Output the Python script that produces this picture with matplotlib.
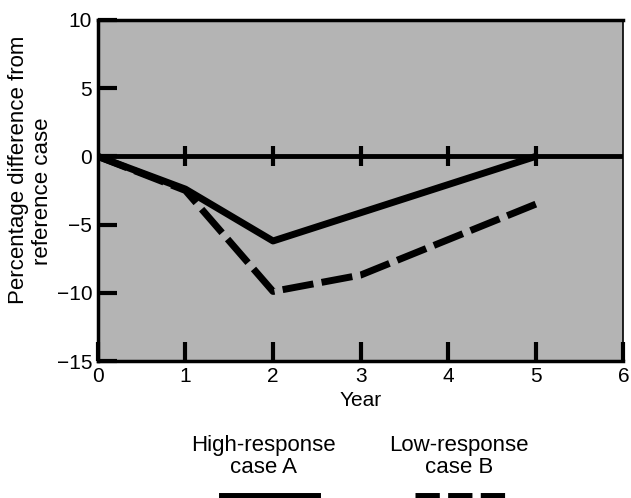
import matplotlib
matplotlib.use('Agg')
from matplotlib import pyplot as plt
from matplotlib.lines import Line2D

plt.rcParams['font.family'] = ['Liberation Sans', 'DejaVu Sans']

years = [0, 1, 2, 3, 4, 5, 6]
case_a_x = [0, 1, 2, 5]
case_a_y = [0, -2.4, -6.2, 0]
case_b_x = [0, 1, 2, 3, 5]
case_b_y = [0, -2.5, -9.9, -8.7, -3.5]
y_ticks = [-15, -10, -5, 0, 5, 10]
ylabel_lines = ['Percentage difference from', 'reference case']
label_a = 'High-response\ncase A'
label_b = 'Low-response\ncase B'

fig = plt.figure(figsize=(6.31, 4.98), dpi=100)
ax = fig.add_axes([0.155, 0.275, 0.833, 0.685])
ax.set_facecolor('#b4b4b4')

ax.axhline(0, color='black', lw=3.5, zorder=2)
ax.plot(years[1:-1], [0] * len(years[1:-1]), ls='none', marker='|',
        ms=14, mew=3, color='black', zorder=2)

ax.plot(case_a_x, case_a_y, color='black', lw=5, solid_capstyle='butt', zorder=3)
line_b, = ax.plot(case_b_x, case_b_y, color='black', lw=5, zorder=3)
line_b.set_dashes((4.5, 1.2))

ax.set_xlim(0, 6)
ax.set_ylim(-15, 10)
ax.set_xticks(years)
ax.set_yticks(y_ticks)
ax.tick_params(direction='in', length=14, width=3, labelsize=15, pad=4)
for sp in ax.spines.values():
    sp.set_linewidth(2.5)
ax.spines['right'].set_linewidth(1.2)

ax.set_xlabel('Year', fontsize=15, labelpad=4)
# y label drawn as two lines, each centred on its own
fig.text(0.029, 0.659, ylabel_lines[0], rotation=90, ha='center', va='center', fontsize=16)
fig.text(0.067, 0.616, ylabel_lines[1], rotation=90, ha='center', va='center', fontsize=16)

fig.text(0.417, 0.04, label_a, ha='center', va='bottom', fontsize=16, linespacing=1.05)
fig.text(0.727, 0.04, label_b, ha='center', va='bottom', fontsize=16, linespacing=1.05)
fig.add_artist(Line2D([0.352, 0.503], [0.004, 0.004], color='black', lw=5,
                      transform=fig.transFigure))
leg_b = Line2D([0.658, 0.808], [0.004, 0.004], color='black', lw=5,
               transform=fig.transFigure)
leg_b.set_dashes((3.5, 1.2))
fig.add_artist(leg_b)

fig.savefig('out.png', dpi=100)
